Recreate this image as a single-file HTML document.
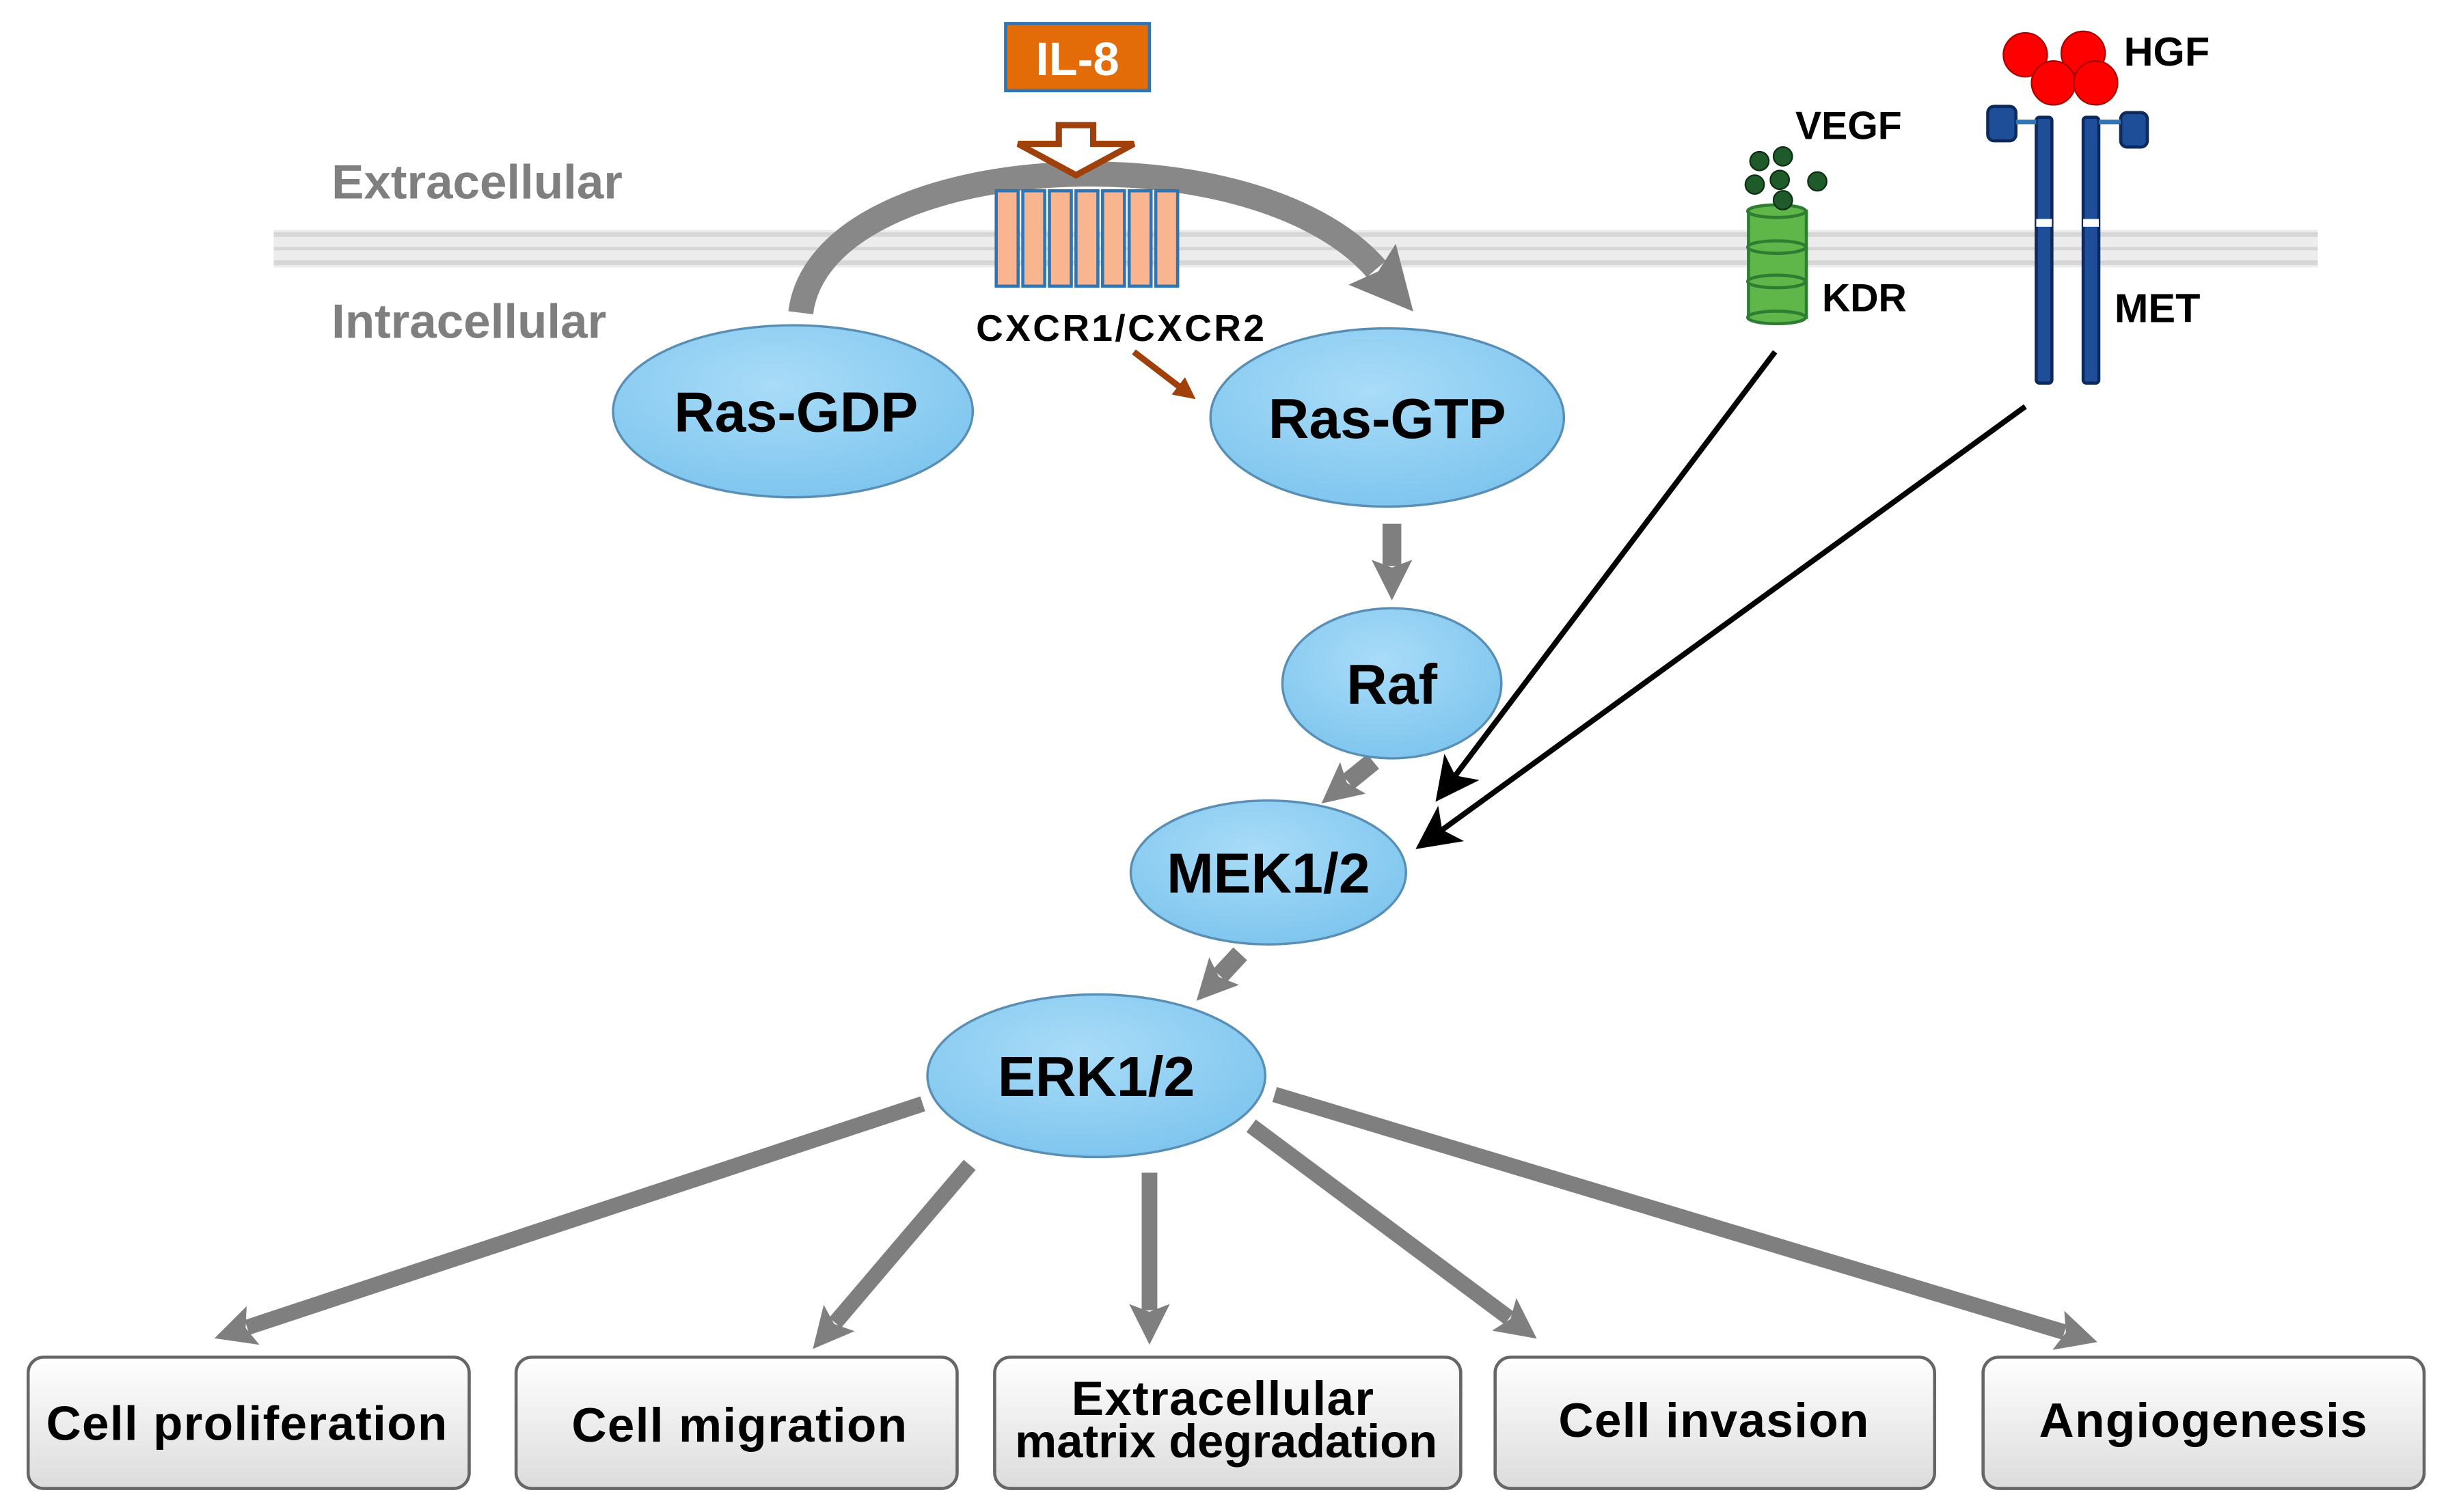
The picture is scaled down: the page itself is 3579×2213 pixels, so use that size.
<!DOCTYPE html>
<html><head><meta charset="utf-8"><style>
html,body{margin:0;padding:0;background:#fff;width:3579px;height:2213px;overflow:hidden}
svg{display:block}
text{font-family:"Liberation Sans",Arial,sans-serif;font-weight:bold}
</style></head><body>
<svg width="3579" height="2213" viewBox="0 0 1564 967" xmlns="http://www.w3.org/2000/svg">
<defs>
<radialGradient id="eg" cx="45%" cy="35%" r="70%">
<stop offset="0" stop-color="#a9dcf8"/><stop offset="1" stop-color="#7cc4ee"/></radialGradient>
<linearGradient id="bg" x1="0" y1="0" x2="0" y2="1">
<stop offset="0" stop-color="#ffffff"/><stop offset="1" stop-color="#dcdcdc"/></linearGradient>
<marker id="ga" markerWidth="26" markerHeight="26" refX="4" refY="13" orient="auto" markerUnits="userSpaceOnUse"><path d="M0,0 L26,13 L0,26 L5,13z" fill="#7f7f7f"/></marker>
<marker id="gb" markerWidth="40" markerHeight="40" refX="4" refY="20" orient="auto" markerUnits="userSpaceOnUse"><path d="M0,0 L40,20 L0,40 L6,20z" fill="#7f7f7f"/></marker>
<marker id="ba" markerWidth="8" markerHeight="8" refX="7" refY="4" orient="auto" markerUnits="strokeWidth"><path d="M0,0 L8,4 L0,8 L2,4z" fill="#000"/></marker>
<marker id="ra" markerWidth="14" markerHeight="14" refX="2" refY="7" orient="auto" markerUnits="userSpaceOnUse"><path d="M0,0 L14,7 L0,14z" fill="#a0400a"/></marker>
</defs>
<rect x="175" y="147" width="1307" height="24" fill="#ececec"/>
<line x1="175" y1="150" x2="1482" y2="150" stroke="#d6d6d6" stroke-width="3"/>
<line x1="175" y1="159" x2="1482" y2="159" stroke="#d6d6d6" stroke-width="2"/>
<line x1="175" y1="168" x2="1482" y2="168" stroke="#d6d6d6" stroke-width="3"/>
<text x="212" y="127" font-size="31" fill="#7f7f7f">Extracellular</text>
<text x="212" y="216" font-size="31" fill="#7f7f7f">Intracellular</text>
<path d="M512,200 C525,95 800,80 880,172" fill="none" stroke="#888" stroke-width="16" marker-end="url(#gb)"/>
<rect x="643" y="15" width="92" height="43" fill="#e36c09" stroke="#2e75b6" stroke-width="2"/>
<text x="689" y="48" font-size="30" fill="#fff" text-anchor="middle">IL-8</text>
<path d="M677,80 L699,80 L699,92 L725,92 L688,112 L651,92 L677,92z" fill="#fff" stroke="#a0400a" stroke-width="4"/>
<g fill="#f9b58f" stroke="#2e75b6" stroke-width="2">
<rect x="637" y="122" width="14" height="61"/><rect x="654" y="122" width="14" height="61"/><rect x="671" y="122" width="14" height="61"/><rect x="688" y="122" width="14" height="61"/><rect x="705" y="122" width="14" height="61"/><rect x="722" y="122" width="14" height="61"/><rect x="739" y="122" width="14" height="61"/>
</g>
<text x="717" y="218" font-size="24" fill="#000" text-anchor="middle" font-weight="normal" letter-spacing="1.5">CXCR1/CXCR2</text>
<line x1="725" y1="225" x2="755" y2="248" stroke="#a0400a" stroke-width="4" marker-end="url(#ra)"/>
<g stroke="#7f7f7f" stroke-width="12" marker-end="url(#ga)" fill="none">
<line x1="890" y1="335" x2="890" y2="362"/>
<line x1="878" y1="487" x2="862" y2="500"/>
<line x1="793" y1="610" x2="780" y2="624"/>
</g>
<g stroke="#7f7f7f" stroke-width="10" marker-end="url(#ga)" fill="none">
<line x1="590" y1="706" x2="158" y2="849"/>
<line x1="620" y1="745" x2="534" y2="846"/>
<line x1="735" y1="750" x2="735" y2="838"/>
<line x1="800" y1="720" x2="965" y2="843"/>
<line x1="815" y1="700" x2="1320" y2="852"/>
</g>
<line x1="1135" y1="225" x2="920" y2="510" stroke="#000" stroke-width="3.5" marker-end="url(#ba)"/>
<line x1="1295" y1="260" x2="908" y2="541" stroke="#000" stroke-width="3.5" marker-end="url(#ba)"/>
<g fill="url(#eg)" stroke="#5a8fb5" stroke-width="1.5">
<ellipse cx="507" cy="263" rx="115" ry="55"/>
<ellipse cx="887" cy="267" rx="113" ry="57"/>
<ellipse cx="890" cy="437" rx="70" ry="48"/>
<ellipse cx="811" cy="558" rx="88" ry="46"/>
<ellipse cx="701" cy="688" rx="108" ry="52"/>
</g>
<g font-size="36" fill="#000" text-anchor="middle">
<text x="509" y="276">Ras-GDP</text>
<text x="887" y="280">Ras-GTP</text>
<text x="890" y="450">Raf</text>
<text x="811" y="571">MEK1/2</text>
<text x="701" y="701">ERK1/2</text>
</g>
<g fill="url(#bg)" stroke="#666" stroke-width="2">
<rect x="18" y="868" width="282" height="84" rx="10"/>
<rect x="330" y="868" width="282" height="84" rx="10"/>
<rect x="636" y="868" width="298" height="84" rx="10"/>
<rect x="956" y="868" width="281" height="84" rx="10"/>
<rect x="1268" y="868" width="282" height="84" rx="10"/>
</g>
<g font-size="31" fill="#000" text-anchor="middle" letter-spacing="0.6">
<text x="158" y="921">Cell proliferation</text>
<text x="473" y="922">Cell migration</text>
<text x="782" y="905">Extracellular</text>
<text x="784" y="932" font-size="30" letter-spacing="0">matrix degradation</text>
<text x="1096" y="919">Cell invasion</text>
<text x="1409" y="919">Angiogenesis</text>
</g>
<g fill="#5fb74a" stroke="#2e7d32" stroke-width="2">
<rect x="1118" y="135" width="37" height="68"/>
<ellipse cx="1136" cy="203" rx="18.5" ry="4"/>
<ellipse cx="1136" cy="180" rx="18.5" ry="4"/>
<ellipse cx="1136" cy="158" rx="18.5" ry="4"/>
<ellipse cx="1136" cy="135" rx="18.5" ry="4"/>
</g>
<g fill="#1f5a2a" stroke="#0d3014" stroke-width="1">
<circle cx="1125" cy="103" r="6"/><circle cx="1140" cy="100" r="6"/><circle cx="1122" cy="118" r="6"/><circle cx="1138" cy="115" r="6"/><circle cx="1162" cy="116" r="6"/><circle cx="1140" cy="128" r="6"/>
</g>
<text x="1148" y="89" font-size="25">VEGF</text>
<text x="1165" y="199" font-size="25">KDR</text>
<g fill="#1f4e99" stroke="#0e2a5c" stroke-width="2">
<rect x="1302" y="75" width="10" height="170" rx="2"/>
<rect x="1332" y="75" width="10" height="170" rx="2"/>
<rect x="1271" y="68" width="18" height="22" rx="4"/>
<rect x="1356" y="72" width="17" height="22" rx="4"/>
</g>
<line x1="1289" y1="78" x2="1302" y2="78" stroke="#2e75b6" stroke-width="3"/>
<line x1="1342" y1="78" x2="1356" y2="78" stroke="#2e75b6" stroke-width="3"/>
<line x1="1307" y1="140" x2="1307" y2="145" stroke="#fff" stroke-width="10"/>
<line x1="1337" y1="140" x2="1337" y2="145" stroke="#fff" stroke-width="10"/>
<g fill="#f00" stroke="#a00" stroke-width="1">
<circle cx="1295" cy="35" r="14"/><circle cx="1332" cy="34" r="14"/><circle cx="1313" cy="53" r="14"/><circle cx="1340" cy="53" r="14"/>
</g>
<text x="1358" y="42" font-size="26">HGF</text>
<text x="1352" y="206" font-size="26">MET</text>
</svg>
</body></html>
